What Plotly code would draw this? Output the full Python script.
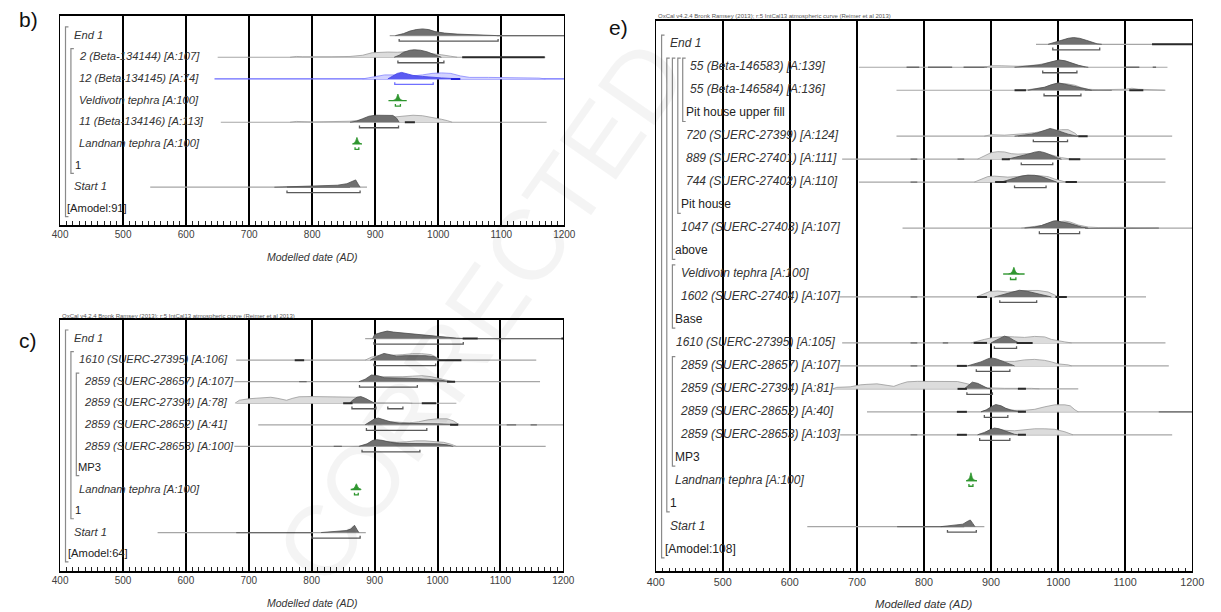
import plotly.graph_objects as go

W, H = 1221, 612

# =========================== DATA ===========================
# Distributions are given as [year, height] points (height in plotted pixels above the row baseline).
# ---------- panel b ----------
B_LABELS = ["End 1", "2 (Beta-134144) [A:107]", "12 (Beta-134145) [A:74]", "Veldivotn tephra [A:100]",
            "11 (Beta-134146) [A:113]", "Landnam tephra [A:100]", "1", "Start 1", "[Amodel:91]"]
B_KIND = ["boundary", "date", "date", "tephra", "date", "tephra", "group", "boundary", "model"]
B_LINE = [[923, 1200], [650, 1170], [645, 1200], [921, 950], [655, 1172], [864, 879], None, [543, 887], None]
B_DARKSEG = [[], [[1038, 1169]], [[1020, 1035]], [], [[947, 963]], [], [], [], []]
B_FAINTSEG = [[[1093, 1200]], [], [], [], [], [], [], [[760, 860]], []]
B_PRIOR = [
    None,
    [[765, 0], [775, 0.8], [785, 0.5], [800, 0.3], [830, 0.5], [860, 0.8], [880, 2], [895, 4.5], [905, 5],
     [920, 5.2], [935, 5], [950, 5.5], [970, 5], [990, 4], [1005, 2.5], [1020, 1], [1030, 0]],
    [[880, 0], [895, 1.5], [905, 3], [915, 4], [930, 4], [945, 3.5], [960, 3], [975, 4], [990, 5.5], [1005, 6],
     [1020, 5.5], [1035, 3], [1050, 1.5], [1080, 1.5], [1110, 1.2], [1140, 1.5], [1160, 0.8], [1170, 0]],
    None,
    [[765, 0], [775, 0.8], [800, 0.3], [840, 0.5], [860, 1], [875, 2], [890, 3], [910, 4], [930, 5], [945, 6],
     [960, 7], [975, 6.5], [990, 5], [1005, 3], [1015, 1.5], [1022, 0]],
    None, None, None, None]
B_POST = [
    [[932, 0], [945, 2], [955, 4.5], [965, 6], [975, 6.7], [985, 6], [995, 4], [1010, 2.5], [1030, 1.5],
     [1050, 0.8], [1070, 0.4], [1093, 0]],
    [[930, 0], [938, 2], [945, 5], [955, 7], [962, 7.5], [972, 7], [982, 5.5], [992, 3], [1000, 1], [1005, 0]],
    [[920, 0], [928, 3], [935, 5.5], [942, 6.5], [950, 5.5], [960, 3.5], [975, 2.5], [990, 1.5], [1005, 1],
     [1020, 0.5], [1030, 0]],
    [[928, 0], [932, 1], [934, 3], [936, 6.5], [938, 3], [940, 1], [944, 0]],
    [[860, 0], [870, 1], [880, 3.5], [890, 6], [900, 7], [915, 7.2], [928, 6.8], [934, 4], [938, 0]],
    [[864, 0], [867, 1], [869, 3], [871, 6.5], [873, 3], [875, 1], [878, 0]],
    None,
    [[740, 0], [770, 0.5], [800, 0.8], [820, 1.2], [840, 2], [855, 3.5], [865, 6], [869, 7.3], [873, 3], [876, 0]],
    None]
B_RANGE = [[[938, 1095]], [[936, 1009]], [[931, 992]], [[932, 940]], [[875, 937]], [[868, 874]], [],
           [[760, 876]], []]
B_GROUPS = [[0, 8], [1, 6]]

# ---------- panel c ----------
C_LABELS = ["End 1", "1610 (SUERC-27395) [A:106]", "2859 (SUERC-28657) [A:107]", "2859 (SUERC-27394) [A:78]",
            "2859 (SUERC-28652) [A:41]", "2859 (SUERC-28653) [A:100]", "MP3", "Landnam tephra [A:100]", "1",
            "Start 1", "[Amodel:64]"]
C_KIND = ["boundary", "date", "date", "date", "date", "date", "group", "tephra", "group", "boundary", "model"]
C_LINE = [[885, 1200], [680, 1157], [677, 1163], [680, 1030], [715, 1200], [677, 1172], None, [862, 878], None,
          [555, 886], None]
C_DARKSEG = [[[1040, 1064], [1197, 1200]], [[773, 788], [1000, 1038]], [[1015, 1028]],
             [[850, 865], [975, 998]], [[1020, 1033]], [], [], [], [], [], []]
C_FAINTSEG = [[[1064, 1200]], [], [[780, 792]], [], [[1110, 1125], [1148, 1158]], [[835, 848]], [], [], [],
              [[680, 800]], []]
C_PRIOR = [
    None,
    [[885, 0], [895, 3], [905, 4.5], [915, 5], [930, 5], [945, 5.5], [960, 6.5], [975, 6.5], [990, 5.5],
     [998, 3], [1005, 0]],
    [[880, 0], [890, 3], [900, 5], [915, 5], [930, 4.5], [945, 5], [960, 5.5], [975, 6], [990, 5], [1005, 3],
     [1015, 1], [1025, 0]],
    [[678, 0], [685, 3], [700, 4.5], [720, 5], [735, 6], [745, 5], [760, 3], [770, 5], [780, 6.5], [800, 6.7],
     [830, 6.7], [860, 6.7], [875, 6], [885, 3], [895, 1], [905, 0.3], [930, 0.3], [940, 1], [950, 0.3],
     [960, 0]],
    [[890, 0], [900, 3], [910, 3.5], [925, 3], [940, 2], [955, 2], [970, 3], [985, 5], [1000, 6], [1015, 6],
     [1025, 4], [1035, 0]],
    [[880, 0], [895, 3], [905, 5], [920, 5], [935, 4], [950, 4.5], [965, 5.5], [980, 5.5], [995, 5], [1010, 4],
     [1022, 2], [1030, 0]],
    None, None, None, None, None]
C_POST = [
    [[897, 0], [900, 4], [910, 6], [920, 7.5], [930, 6.5], [945, 5.5], [960, 4.5], [975, 4], [990, 3],
     [1000, 2], [1015, 1], [1030, 0.5], [1045, 0]],
    [[893, 0], [900, 2.5], [908, 5], [915, 6.7], [925, 5.5], [935, 4], [950, 4.5], [965, 4.5], [980, 4.5],
     [995, 3.5], [1000, 1], [1003, 0]],
    [[875, 0], [885, 2.5], [895, 6.7], [905, 6], [915, 4], [930, 3.5], [950, 3.5], [970, 3], [990, 2.5],
     [1005, 1.5], [1015, 0.5], [1020, 0]],
    [[860, 0], [865, 3], [872, 6], [878, 6.7], [885, 5], [893, 2], [900, 0]],
    [[885, 0], [893, 3], [900, 6], [906, 6.7], [915, 5], [925, 3], [940, 1.5], [960, 1.5], [980, 1.2],
     [1000, 1], [1020, 0.5], [1030, 0]],
    [[875, 0], [888, 2.5], [897, 6], [903, 6.7], [912, 6], [925, 4], [940, 3], [960, 3], [980, 3], [1000, 2.5],
     [1015, 1.5], [1025, 0]],
    None,
    [[863, 0], [867, 1], [869, 3], [871, 5.7], [873, 3], [875, 1], [879, 0]],
    None,
    [[815, 0], [830, 0.7], [845, 1.2], [855, 2], [862, 3.5], [868, 7.3], [872, 3], [875, 0]],
    None]
C_RANGE = [[[899, 1041]], [[899, 997]], [[876, 968]], [[864, 902], [921, 945]], [[887, 983]], [[880, 972]], [],
           [[868, 874]], [], [[800, 877]], []]
C_GROUPS = [[0, 10], [1, 8], [2, 6]]

# ---------- panel e ----------
E_LABELS = ["End 1", "55 (Beta-146583) [A:139]", "55 (Beta-146584) [A:136]", "Pit house upper fill",
            "720 (SUERC-27399) [A:124]", "889 (SUERC-27401) [A:111]", "744 (SUERC-27402) [A:110]", "Pit house",
            "1047 (SUERC-27403) [A:107]", "above", "Veldivotn tephra [A:100]", "1602 (SUERC-27404) [A:107]",
            "Base", "1610 (SUERC-27395) [A:105]", "2859 (SUERC-28657) [A:107]", "2859 (SUERC-27394) [A:81]",
            "2859 (SUERC-28652) [A:40]", "2859 (SUERC-28653) [A:103]", "MP3", "Landnam tephra [A:100]", "1",
            "Start 1", "[Amodel:108]"]
E_KIND = ["boundary", "date", "date", "group", "date", "date", "date", "group", "date", "group", "tephra", "date",
          "group", "date", "date", "date", "date", "date", "group", "tephra", "group", "boundary", "model"]
E_LINE = [[967, 1200], [703, 1163], [759, 1159], None, [759, 1170], [678, 1160], [703, 1160], None, [768, 1200],
          None, [918, 950], [674, 1131], None, [678, 1160], [675, 1165], [664, 1030], [715, 1200], [675, 1170],
          None, [863, 879], None, [626, 890], None]
E_DARKSEG = [[[1140, 1200]], [], [[935, 952], [1106, 1127]], [],
             [[1030, 1044]], [[916, 928], [1016, 1033]], [[906, 923], [1011, 1028]], [], [], [], [],
             [[879, 894], [996, 1013]], [], [[874, 894], [938, 962]], [[849, 864]], [[850, 864], [940, 952]],
             [[849, 864], [940, 952]], [[849, 864], [940, 952]], [], [], [], [], []]
E_FAINTSEG = [[], [[774, 793], [806, 842], [859, 894], [1101, 1121], [1141, 1146]], [[1040, 1080]], [],
              [[940, 1030]], [[780, 790], [850, 860]], [[780, 790]], [], [[1040, 1150]], [], [],
              [[780, 790]], [], [[780, 790], [828, 836]], [[780, 790]], [], [[1150, 1200]], [[780, 790]],
              [], [], [], [[760, 860]], []]
E_PRIOR = [
    None,
    [[890, 0], [900, 1.5], [915, 1.5], [925, 1], [940, 1], [955, 1.5], [970, 2.5], [985, 4.5], [995, 6],
     [1002, 7], [1012, 6], [1022, 3.5], [1032, 1.5], [1040, 0]],
    [[950, 0], [965, 1.5], [980, 3], [990, 5.5], [1000, 7], [1012, 6.5], [1025, 5], [1035, 2.5], [1045, 1],
     [1060, 0.5], [1080, 0.5], [1100, 1], [1110, 2], [1120, 1], [1140, 0.5], [1160, 0]],
    None,
    [[890, 0], [900, 1.5], [920, 1], [935, 1.5], [950, 2.5], [965, 3.5], [975, 5], [985, 6], [995, 5.5],
     [1005, 6.5], [1015, 6.5], [1025, 3], [1030, 0]],
    [[880, 0], [890, 3], [900, 6.5], [910, 7.5], [920, 7.2], [930, 5.5], [940, 5], [955, 5.5], [970, 6],
     [985, 5], [995, 3], [1005, 1.5], [1015, 0.5], [1020, 0]],
    [[875, 0], [885, 3], [895, 5.5], [905, 6], [915, 5.5], [925, 5], [940, 5.5], [955, 6.5], [970, 6.5],
     [985, 5.5], [995, 3], [1005, 1], [1012, 0]],
    None,
    [[945, 0], [960, 1], [975, 2.5], [990, 5.5], [1000, 6.5], [1010, 7], [1018, 6], [1030, 3], [1045, 1],
     [1060, 0.5], [1100, 0.7], [1120, 0.3], [1150, 0]],
    None, None,
    [[878, 0], [888, 3], [898, 5.5], [910, 6], [925, 5], [940, 5.5], [955, 6.5], [970, 6.5], [985, 5], [995, 2],
     [1000, 0]],
    None,
    [[870, 0], [880, 2], [890, 3.5], [900, 5], [910, 6], [920, 6.5], [935, 6], [950, 5.5], [965, 6.5], [980, 6],
     [990, 3.5], [1000, 2], [1010, 1], [1020, 0]],
    [[870, 0], [880, 2], [890, 4], [900, 6], [910, 5.5], [920, 4.5], [935, 4.5], [950, 6], [965, 6.5], [980, 5.5],
     [990, 4], [1000, 2], [1015, 1], [1020, 0]],
    [[664, 0], [670, 1.5], [690, 2], [705, 4], [715, 4.5], [730, 5], [745, 3.5], [755, 2.5], [765, 5], [775, 7],
     [790, 7.5], [810, 7.5], [830, 7.5], [850, 7.3], [865, 5], [880, 2], [895, 1], [920, 0.5], [960, 0.5],
     [972, 0]],
    [[885, 0], [895, 2], [905, 4], [915, 4], [925, 2.5], [935, 1.5], [950, 1.5], [965, 2.5], [980, 5], [995, 7],
     [1010, 7], [1018, 6], [1025, 2], [1030, 0]],
    [[880, 0], [890, 2.5], [900, 5], [910, 5.5], [920, 4.5], [935, 4], [950, 5], [965, 6], [980, 6], [995, 5.5],
     [1010, 3], [1018, 1], [1022, 0]],
    None, None, None, None, None]
E_POST = [
    [[985, 0], [995, 2], [1005, 4.5], [1015, 6], [1023, 6.7], [1032, 6], [1042, 4], [1050, 2], [1058, 0.5],
     [1065, 0]],
    [[935, 0], [950, 0.7], [965, 1.5], [975, 2.5], [985, 4.5], [995, 6.5], [1001, 7.3], [1010, 6.5], [1020, 4],
     [1030, 2], [1040, 0.5], [1045, 0]],
    [[955, 0], [970, 1.5], [980, 3], [990, 5.5], [1000, 7.3], [1010, 6], [1020, 4.5], [1030, 2.5], [1040, 1],
     [1050, 0]],
    None,
    [[935, 0], [950, 1], [960, 2], [970, 3.5], [980, 6], [988, 7.7], [995, 6.5], [1005, 4], [1015, 2],
     [1025, 0.5], [1030, 0]],
    [[925, 0], [935, 1.5], [945, 3], [955, 5], [965, 7], [972, 7.7], [980, 6.5], [990, 3.5], [998, 1.5],
     [1005, 0]],
    [[915, 0], [925, 2], [935, 4], [945, 6], [955, 7], [965, 6.8], [975, 5.5], [985, 3], [993, 1], [998, 0]],
    None,
    [[950, 0], [965, 1], [975, 2.5], [985, 5], [993, 7], [998, 7.3], [1005, 6], [1015, 5], [1025, 3], [1035, 1],
     [1045, 0]],
    None,
    [[926, 0], [930, 1], [932, 3], [934, 6.7], [936, 3], [938, 1], [942, 0]],
    [[905, 0], [915, 2], [925, 4], [935, 6], [942, 6.7], [952, 6], [962, 4.5], [972, 3], [982, 1], [990, 0]],
    None,
    [[900, 0], [907, 2], [913, 4.5], [920, 6.7], [927, 5.5], [933, 3], [940, 0.5], [945, 0]],
    [[865, 0], [875, 2], [885, 4], [895, 7], [900, 8], [908, 7], [915, 5], [922, 3], [930, 1], [935, 0]],
    [[860, 0], [866, 3], [872, 6.7], [880, 5.5], [888, 2.5], [895, 0.5], [900, 0]],
    [[885, 0], [893, 2], [900, 5], [907, 7.3], [915, 6], [922, 3.5], [930, 1.5], [940, 0.5], [945, 0]],
    [[880, 0], [890, 2], [898, 5], [905, 6.7], [912, 6], [920, 4], [928, 2], [935, 0.5], [940, 0]],
    None,
    [[863, 0], [866, 1], [868, 3], [870, 8], [872, 3], [874, 1], [878, 0]],
    None,
    [[825, 0], [840, 1], [850, 1.5], [858, 2.5], [864, 5], [869, 6.7], [873, 3], [876, 0]],
    None]
E_RANGE = [[[992, 1062]], [[977, 1028]], [[979, 1034]], [], [[963, 1014]], [[945, 992]], [[935, 982]], [],
           [[972, 1032]], [], [[929, 937]], [[913, 968]], [], [[905, 938]], [[878, 928]], [[864, 902]],
           [[890, 925]], [[883, 928]], [], [[867, 873]], [], [[835, 878]], []]
E_GROUPS = [[0, 22], [1, 20], [1, 9], [1, 7], [1, 3], [10, 12], [14, 18]]

X_TICKS = [400, 500, 600, 700, 800, 900, 1000, 1100, 1200]
HEADER = "OxCal v4.2.4 Bronk Ramsey (2013); r:5 IntCal13 atmospheric curve (Reimer et al 2013)"
AXIS_TITLE = "Modelled date (AD)"
WATERMARK = "CORRECTED"

# =========================== LAYOUT / STYLE ===========================
FONT = "Liberation Sans, Arial, sans-serif"
PANELS = [
    dict(name="b)", ax="", labels=B_LABELS, kind=B_KIND, line=B_LINE, dseg=B_DARKSEG, fseg=B_FAINTSEG,
         prior=B_PRIOR, post=B_POST, rng=B_RANGE, groups=B_GROUPS, highlight=2,
         x0=52, x1=565, top=16, bottom=224.5, row0=35.6, dy=21.66, fs=11.2, tfs=10, header=None,
         label_x=[66, 71, 71, 71, 71, 71, 67, 66, 59], group_x=[57.5, 63],
         letter=(10, 20)),
    dict(name="c)", ax="2", labels=C_LABELS, kind=C_KIND, line=C_LINE, dseg=C_DARKSEG, fseg=C_FAINTSEG,
         prior=C_PRIOR, post=C_POST, rng=C_RANGE, groups=C_GROUPS, highlight=None,
         x0=52, x1=564, top=320, bottom=570.5, row0=338.6, dy=21.55, fs=11.2, tfs=10, header=316,
         label_x=[66, 71.5, 76, 76, 76, 76, 70, 71, 67, 66, 60], group_x=[57.5, 63, 68.5],
         letter=(10, 340)),
    dict(name="e)", ax="3", labels=E_LABELS, kind=E_KIND, line=E_LINE, dseg=E_DARKSEG, fseg=E_FAINTSEG,
         prior=E_PRIOR, post=E_POST, rng=E_RANGE, groups=E_GROUPS, highlight=None,
         x0=658, x1=1204, top=21, bottom=571, row0=44.3, dy=22.97, fs=12, tfs=10.8, header=16,
         label_x=[672.5, 693, 693, 689, 689, 689, 689, 684, 684, 678, 684, 684, 678, 679, 683, 683, 683, 683,
                  678, 678, 673, 673, 667],
         group_x=[664, 669.3, 675, 680.5, 685.5, 675, 675],
         letter=(610, 28)),
]
TEXT_PAD = 2  # annotation box padding (px) subtracted so glyphs start where intended

GREY_LINE = "#a6a6a6"
FAINT_SEG = "#6a6a6a"
PRIOR_FILL, PRIOR_EDGE = "#dcdcdc", "#9a9a9a"
POST_FILL, POST_EDGE = "#707070", "#4e4e4e"
DARKSEG = "#2a2a2a"
RANGE_COL = "#5a5a5a"
BLUE = dict(line="#6a6aff", pf="#d2d2ff", pe="#8585ff", qf="#5a5af2", qe="#3c3ce6", seg="#2222dd", rng="#7070ff")
GREEN = "#2f962f"

fig = go.Figure()


def add_line(xs, ys, color, width, xa, ya):
    fig.add_trace(go.Scatter(x=xs, y=ys, mode="lines", line=dict(color=color, width=width),
                             xaxis=xa, yaxis=ya, hoverinfo="skip", showlegend=False))


def add_poly(pts, yb, fill, edge, xa, ya, width=0.8):
    fig.add_trace(go.Scatter(x=[p[0] for p in pts], y=[yb - p[1] for p in pts], mode="lines",
                             fill="toself", fillcolor=fill, line=dict(color=edge, width=width),
                             xaxis=xa, yaxis=ya, hoverinfo="skip", showlegend=False))


shapes = []
annotations = []


def px(x):
    return x / W


def py(y):
    return 1 - y / H


# faint diagonal watermark
annotations.append(dict(text=WATERMARK, x=px(480), y=py(312), xref="paper", yref="paper",
                        showarrow=False, textangle=-55,
                        font=dict(family=FONT, size=100, color="rgba(0,0,0,0.045)")))

for P in PANELS:
    xa = "x" + P["ax"]
    ya = "y" + P["ax"]
    row_y = [P["row0"] + i * P["dy"] for i in range(len(P["labels"]))]
    for i, yb in enumerate(row_y):
        kind = P["kind"][i]
        blue = (P["highlight"] == i)
        green = (kind == "tephra")
        ln = P["line"][i]
        if ln is not None:
            if green:
                add_line([ln[0], ln[1]], [yb, yb], GREEN, 1.4, xa, ya)
            elif blue:
                add_line([ln[0], ln[1]], [yb, yb], BLUE["line"], 1.2, xa, ya)
            else:
                add_line([ln[0], ln[1]], [yb, yb], GREY_LINE, 1.2, xa, ya)
        for s in P["fseg"][i]:
            add_line([s[0], s[1]], [yb, yb], FAINT_SEG, 1.3, xa, ya)
        if P["prior"][i] is not None:
            if blue:
                add_poly(P["prior"][i], yb, BLUE["pf"], BLUE["pe"], xa, ya)
            else:
                add_poly(P["prior"][i], yb, PRIOR_FILL, PRIOR_EDGE, xa, ya)
        if P["post"][i] is not None:
            if green:
                add_poly(P["post"][i], yb, GREEN, GREEN, xa, ya)
            elif blue:
                add_poly(P["post"][i], yb, BLUE["qf"], BLUE["qe"], xa, ya)
            else:
                add_poly(P["post"][i], yb, POST_FILL, POST_EDGE, xa, ya)
        for s in P["dseg"][i]:
            add_line([s[0], s[1]], [yb, yb], BLUE["seg"] if blue else DARKSEG, 2, xa, ya)
        for r in P["rng"][i]:
            col = GREEN if green else (BLUE["rng"] if blue else RANGE_COL)
            yr = yb + 5.5
            add_line([r[0], r[0], r[1], r[1]], [yr - 2.2, yr, yr, yr - 2.2], col, 1.3, xa, ya)
        # label
        txt = P["labels"][i]
        if kind in ("boundary", "date", "tephra"):
            txt = "<i>" + txt + "</i>"
            col = "#333333"
        else:
            col = "#222222"
        annotations.append(dict(text=txt, x=px(P["label_x"][i] - TEXT_PAD), y=py(yb - 0.8), xref="paper",
                                yref="paper", xanchor="left", yanchor="middle", showarrow=False,
                                font=dict(family=FONT, size=P["fs"], color=col)))
    # group brackets
    for g, gx in zip(P["groups"], P["group_x"]):
        t = row_y[g[0]] - 0.4 * P["dy"]
        b = row_y[g[1]] + 0.36 * P["dy"]
        path = "M {:.5f},{:.5f} L {:.5f},{:.5f} L {:.5f},{:.5f} L {:.5f},{:.5f}".format(
            px(gx + 3), py(t), px(gx), py(t), px(gx), py(b), px(gx + 3), py(b))
        shapes.append(dict(type="path", path=path, xref="paper", yref="paper",
                           line=dict(color="#8a8a8a", width=1.2)))
    # axes
    fig.update_layout(**{
        "xaxis" + P["ax"]: dict(domain=[px(P["x0"]), px(P["x1"])], range=[400, 1200], anchor=ya,
                                tickvals=X_TICKS, ticktext=[str(v) for v in X_TICKS], ticks="inside",
                                ticklen=4, tickcolor="black", showgrid=True, gridcolor="black", gridwidth=1.6,
                                showline=True, linecolor="black", linewidth=1.6, mirror=True, zeroline=False,
                                tickfont=dict(family=FONT, size=P["tfs"], color="#404040"),
                                minor=dict(dtick=10, tick0=400, ticks="inside", ticklen=3.5, tickcolor="#222",
                                           tickwidth=1, showgrid=False),
                                fixedrange=True),
        "yaxis" + P["ax"]: dict(domain=[py(P["bottom"]), py(P["top"])], range=[P["bottom"], P["top"]],
                                anchor=xa, showline=True, linecolor="black", linewidth=1.4, mirror=True,
                                showticklabels=False, showgrid=False, zeroline=False, ticks="",
                                fixedrange=True),
    })
    # axis title
    annotations.append(dict(text="<i>" + AXIS_TITLE + "</i>", x=px((P["x0"] + P["x1"]) / 2),
                            y=py(P["bottom"] + 32.5), xref="paper", yref="paper", showarrow=False,
                            xanchor="center", yanchor="middle",
                            font=dict(family=FONT, size=P["tfs"] + 0.5, color="#333333")))
    # panel letter
    annotations.append(dict(text=P["name"], x=px(P["letter"][0] - TEXT_PAD), y=py(P["letter"][1]),
                            xref="paper", yref="paper", showarrow=False, xanchor="left", yanchor="middle",
                            font=dict(family=FONT, size=21, color="#111111")))
    if P["header"] is not None:
        annotations.append(dict(text=HEADER, x=px(P["x0"]), y=py(P["header"]), xref="paper", yref="paper",
                                showarrow=False, xanchor="left", yanchor="middle",
                                font=dict(family=FONT, size=6, color="#555555")))

fig.update_layout(width=W, height=H, margin=dict(l=0, r=0, t=0, b=0), paper_bgcolor="white",
                  plot_bgcolor="white", showlegend=False, shapes=shapes, annotations=annotations)

fig.write_html("out.html")
